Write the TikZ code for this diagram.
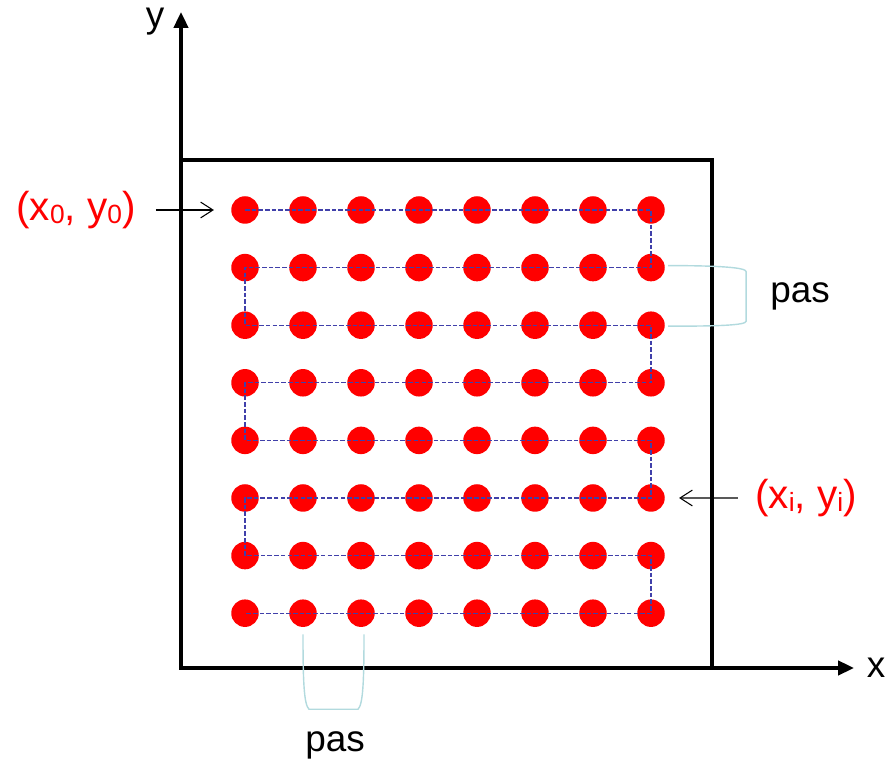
\documentclass[tikz,border=0pt]{standalone}
\usepackage{fontspec}
\setmainfont{Liberation Sans}
\usetikzlibrary{arrows.meta,calc}
\definecolor{dotred}{RGB}{255,0,0}
\definecolor{routeblue}{RGB}{64,64,170}
\definecolor{bracketcyan}{RGB}{178,218,222}
\newcommand{\idx}[1]{\raisebox{-1.5pt}{\fontsize{15}{15}\selectfont #1}}
\tikzset{
  frame/.style={line width=2.3pt, draw=black},
  axis/.style={line width=2.1pt, draw=black, -{Triangle[length=9pt,width=8pt]}},
  dot/.style={circle, fill=dotred, minimum size=0.55cm, inner sep=0pt},
  route/.style={draw=routeblue, line width=0.75pt, dash pattern=on 2.6pt off 1.2pt},
  bracket/.style={draw=bracketcyan, line width=0.8pt},
  pointer/.style={draw=black, line width=0.6pt, -{Straight Barb[length=7pt,width=9pt]}},
  coordlabel/.style={font=\fontsize{23}{27}\selectfont, text=dotred, inner sep=0pt},
  axislabel/.style={font=\fontsize{21}{25}\selectfont, inner sep=0pt},
}

\begin{document}
\begin{tikzpicture}[x=0.02cm, y=0.02cm]
\useasboundingbox (0,0) rectangle (887,764);
\draw[frame] (181,96) rectangle (712,604);
\draw[axis] (181,96) -- (181,752);
\draw[axis] (181,96) -- (854,96);
\node[axislabel] (ylab) at (155,742) {y};
\node[axislabel] (xlab) at (876,96) {x};
\foreach \c in {0,...,7}
  \foreach \r in {0,...,7}
    \node[dot] (dot-\c-\r) at ({245+58*\c},{554-57.6*\r}) {};
\draw[route] (dot-0-0.center) -- (dot-7-0.center) -- (dot-7-1.center) -- (dot-0-1.center)
  -- (dot-0-2.center) -- (dot-7-2.center) -- (dot-7-3.center) -- (dot-0-3.center)
  -- (dot-0-4.center) -- (dot-7-4.center) -- (dot-7-5.center) -- (dot-0-5.center)
  -- (dot-0-6.center) -- (dot-7-6.center) -- (dot-7-7.center) -- (dot-0-7.center);
\node[coordlabel] (start) at (76,554) {(x\idx{0}, y\idx{0})};
\node[coordlabel] (current) at (806,266) {(x\idx{i}, y\idx{i})};
\draw[pointer] ($(start.east)+(20,0)$) -- ($(dot-0-0.west)+(-17,0)$);
\draw[pointer] ($(current.west)+(-17,0)$) -- ($(dot-7-5.east)+(14,0)$);
% pas brackets
\draw[bracket] ($(dot-7-1.east)+(3,2)$) .. controls ($(dot-7-1.east)+(55,2)$) and ($(dot-7-1.east)+(81,0)$) .. ($(dot-7-1.east)+(81,-4)$)
  -- ($(dot-7-2.east)+(81,4)$) .. controls ($(dot-7-2.east)+(81,0)$) and ($(dot-7-2.east)+(55,-1)$) .. ($(dot-7-2.east)+(3,-1)$);
\node[axislabel] (pasright) at (800,468) {pas};
\draw[bracket] ($(dot-1-7.south)+(0,-7)$) .. controls ($(dot-1-7.south)+(0,-55)$) and ($(dot-1-7.south)+(1,-77)$) .. ($(dot-1-7.south)+(6,-82)$)
  -- ($(dot-2-7.south)+(-3,-82)$) .. controls ($(dot-2-7.south)+(2,-77)$) and ($(dot-2-7.south)+(3,-55)$) .. ($(dot-2-7.south)+(3,-7)$);
\node[axislabel] (pasbottom) at (335,19) {pas};
\end{tikzpicture}
\end{document}
